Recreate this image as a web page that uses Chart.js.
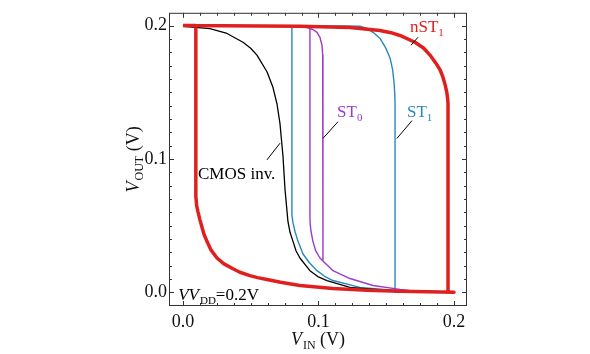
<!DOCTYPE html>
<html>
<head>
<meta charset="utf-8">
<script src="https://cdn.jsdelivr.net/npm/chart.js@4"></script>
<style>
  html, body { margin: 0; padding: 0; background: #fff; }
  #wrap { width: 590px; height: 354px; }
</style>
</head>
<body>
<div id="wrap"><canvas id="vtc"></canvas></div>
<script>
// tick labels
const xTicks = [0.0, 0.1, 0.2];
const yTicks = [0.0, 0.1, 0.2];

// [V_IN, V_OUT] pairs, in sweep order
const nST1 = [
  [0.0, 0.2], [0.0863, 0.1996], [0.1232, 0.1985], [0.1454, 0.1963], [0.1535, 0.1947], [0.1601, 0.1926],
  [0.1712, 0.1875], [0.1775, 0.1832], [0.1823, 0.1779], [0.1865, 0.172], [0.1897, 0.1669],
  [0.1918, 0.1615], [0.1934, 0.1559], [0.1947, 0.15], [0.1954, 0.1445],
  [0.1956, 0.1412], [0.1956, 0.0], [0.2, 0.0],
  [0.1601, 0.0007], [0.1358, 0.0015], [0.1107, 0.0029], [0.0863, 0.0051], [0.072, 0.0075],
  [0.062, 0.0096], [0.055, 0.011], [0.0494, 0.0125], [0.042, 0.015], [0.0369, 0.0176],
  [0.030, 0.0215], [0.0251, 0.0257], [0.0205, 0.032], [0.0177, 0.0382], [0.0155, 0.0435],
  [0.014, 0.049], [0.0125, 0.0545], [0.0111, 0.0603], [0.0101, 0.065], [0.0096, 0.071],
  [0.0095, 0.0772], [0.0095, 0.2], [0.0, 0.2]
];
const st1 = [
  [0.0, 0.2], [0.12, 0.1998], [0.1306, 0.1995], [0.1358, 0.1978], [0.1405, 0.1948], [0.1454, 0.1904],
  [0.1495, 0.1835], [0.1528, 0.1757], [0.1547, 0.1670], [0.1557, 0.1581], [0.1563, 0.149],
  [0.1565, 0.1412], [0.1565, 0.0], [0.2, 0.0],
  [0.155, 0.0015], [0.1306, 0.0037], [0.1107, 0.0088], [0.1045, 0.012], [0.0989, 0.0162],
  [0.0930, 0.0225], [0.0886, 0.0287], [0.0849, 0.0382], [0.0827, 0.0456], [0.0812, 0.052],
  [0.0804, 0.0581], [0.0804, 0.2]
];
const st0 = [
  [0.0, 0.2], [0.079, 0.1996], [0.0863, 0.1993], [0.0915, 0.1985], [0.0959, 0.1971],
  [0.0989, 0.1949], [0.1011, 0.1912], [0.1026, 0.1853], [0.1031, 0.178], [0.1033, 0.1706],
  [0.1033, 0.0235],
  [0.1107, 0.0162], [0.1232, 0.0103], [0.1402, 0.0051], [0.1601, 0.0022], [0.1727, 0.0007],
  [0.2, 0.0], [0.1727, 0.0007], [0.1601, 0.0022], [0.1402, 0.0051], [0.1232, 0.0103],
  [0.1107, 0.0162], [0.1033, 0.0235], [0.1011, 0.0257], [0.0980, 0.031], [0.0959, 0.0382],
  [0.0945, 0.0456], [0.0939, 0.051], [0.0937, 0.0566], [0.0937, 0.1985]
];
const cmosInv = [
  [0.0, 0.1995], [0.0199, 0.1978], [0.0325, 0.1941], [0.0443, 0.1875], [0.0500, 0.1830],
  [0.0546, 0.1779], [0.062, 0.1654], [0.0664, 0.1537], [0.0694, 0.1412], [0.0716, 0.1265],
  [0.0738, 0.1022], [0.0753, 0.0772], [0.0775, 0.0529], [0.0790, 0.045], [0.0812, 0.0382],
  [0.0835, 0.031], [0.0863, 0.0257], [0.0937, 0.0162], [0.0995, 0.0118], [0.1063, 0.0088],
  [0.1232, 0.0037], [0.1476, 0.0015], [0.1845, 0.0], [0.2, 0.0]
];

const RED = '#e0201e', TEAL = '#2a88b8', PURPLE = '#9a3cc8';
const SERIF = '"Liberation Serif", "DejaVu Serif", serif';

// text labels: [x, y] in data units, parts = [text, style]
const notes = [
  { at: [0.1675, 0.1949], color: RED, parts: [['nST', 'n'], ['1', 's']], line: [[0.1734, 0.1912], [0.1683, 0.1853]] },
  { at: [0.1137, 0.1316], color: PURPLE, parts: [['ST', 'n'], ['0', 's']], line: [[0.1144, 0.1279], [0.1033, 0.1154]] },
  { at: [0.1653, 0.1316], color: TEAL, parts: [['ST', 'n'], ['1', 's']], line: [[0.169, 0.1287], [0.1579, 0.1154]] },
  { at: [0.0111, 0.0846], color: '#000', parts: [['CMOS inv.', 'n']], line: [[0.062, 0.0993], [0.0716, 0.1118]] },
  { at: [-0.0035, -0.0059], color: '#000', parts: [['VV', 'i'], ['DD', 's'], ['=0.2V', 'n']] }
];

function toPts(arr) { return arr.map(p => ({ x: p[0], y: p[1] })); }

function drawParts(ctx, x, y, parts, size) {
  parts.forEach(([txt, st]) => {
    if (st === 's') {
      ctx.font = `${Math.round(size * 0.65)}px ${SERIF}`;
      ctx.fillText(txt, x, y + size * 0.22);
    } else {
      ctx.font = `${st === 'i' ? 'italic ' : ''}${size}px ${SERIF}`;
      ctx.fillText(txt, x, y);
    }
    x += ctx.measureText(txt).width + (st === 'i' ? 1 : 0);
  });
  return x;
}

function measureParts(ctx, parts, size) {
  let w = 0;
  parts.forEach(([txt, st]) => {
    ctx.font = st === 's' ? `${Math.round(size * 0.65)}px ${SERIF}` : `${st === 'i' ? 'italic ' : ''}${size}px ${SERIF}`;
    w += ctx.measureText(txt).width + (st === 'i' ? 1 : 0);
  });
  return w;
}

const frameAndText = {
  id: 'frameAndText',
  afterDraw(chart) {
    const { ctx, chartArea: a, scales: { x, y } } = chart;
    ctx.save();
    // frame
    ctx.strokeStyle = '#333';
    ctx.lineWidth = 1;
    ctx.strokeRect(a.left + 0.5, a.top + 0.5, a.right - a.left - 1, a.bottom - a.top - 1);
    // inward ticks
    ctx.beginPath();
    for (let i = 0; i <= 16; i++) {
      const v = i * 0.0125, px = Math.round(x.getPixelForValue(v)) + 0.5;
      const len = i % 8 === 0 ? 5 : 3;
      ctx.moveTo(px, a.bottom); ctx.lineTo(px, a.bottom - len);
      ctx.moveTo(px, a.top); ctx.lineTo(px, a.top + len);
    }
    for (let i = 0; i <= 20; i++) {
      const v = i * 0.01, py = Math.round(y.getPixelForValue(v)) + 0.5;
      const len = i % 10 === 0 ? 5 : 3;
      ctx.moveTo(a.left, py); ctx.lineTo(a.left + len, py);
      ctx.moveTo(a.right, py); ctx.lineTo(a.right - len, py);
    }
    ctx.stroke();

    // curve labels and leader lines
    ctx.textBaseline = 'alphabetic';
    notes.forEach(n => {
      ctx.fillStyle = n.color;
      drawParts(ctx, x.getPixelForValue(n.at[0]), y.getPixelForValue(n.at[1]), n.parts, 17);
      if (n.line) {
        ctx.strokeStyle = '#000';
        ctx.lineWidth = 1;
        ctx.beginPath();
        ctx.moveTo(x.getPixelForValue(n.line[0][0]), y.getPixelForValue(n.line[0][1]));
        ctx.lineTo(x.getPixelForValue(n.line[1][0]), y.getPixelForValue(n.line[1][1]));
        ctx.stroke();
      }
    });

    // axis titles
    ctx.fillStyle = '#111';
    const xt = [['V', 'i'], ['IN', 's'], [' (V)', 'n']];
    const xw = measureParts(ctx, xt, 18);
    drawParts(ctx, (a.left + a.right) / 2 - xw / 2, 345, xt, 18);
    const yt = [['V', 'i'], ['OUT', 's'], [' (V)', 'n']];
    const yw = measureParts(ctx, yt, 18);
    ctx.translate(139, (a.top + a.bottom) / 2);
    ctx.rotate(-Math.PI / 2);
    drawParts(ctx, -yw / 2, 0, yt, 18);
    ctx.restore();
  }
};

const line = (data, color, width) => ({
  data: toPts(data), borderColor: color, borderWidth: width,
  showLine: true, pointRadius: 0, tension: 0, fill: false,
  borderJoinStyle: 'round'
});

new Chart(document.getElementById('vtc'), {
  type: 'scatter',
  data: {
    datasets: [
      line(nST1, RED, 3.5),
      line(cmosInv, '#000', 1.3),
      line(st0, PURPLE, 1.4),
      line(st1, TEAL, 1.4)
    ]
  },
  options: {
    responsive: true,
    maintainAspectRatio: false,
    animation: false,
    layout: { padding: { left: 0, right: 123, top: 7, bottom: 0 } },
    plugins: { legend: { display: false }, tooltip: { enabled: false } },
    scales: {
      x: {
        type: 'linear', min: -0.0103, max: 0.2096,
        grid: { display: false, tickLength: 0 }, border: { display: false },
        afterBuildTicks: s => { s.ticks = xTicks.map(v => ({ value: v })); },
        afterFit: s => { s.height = 48; },
        ticks: {
          padding: 5, color: '#111', font: { family: SERIF, size: 18 },
          callback: v => v.toFixed(1)
        }
      },
      y: {
        type: 'linear', min: -0.0103, max: 0.2096,
        grid: { display: false, tickLength: 0 }, border: { display: false },
        afterBuildTicks: s => { s.ticks = yTicks.map(v => ({ value: v })); },
        afterFit: s => { s.width = 169; },
        ticks: {
          padding: 2, color: '#111', font: { family: SERIF, size: 18 },
          callback: v => v.toFixed(1)
        }
      }
    }
  },
  plugins: [frameAndText]
});
</script>
</body>
</html>
